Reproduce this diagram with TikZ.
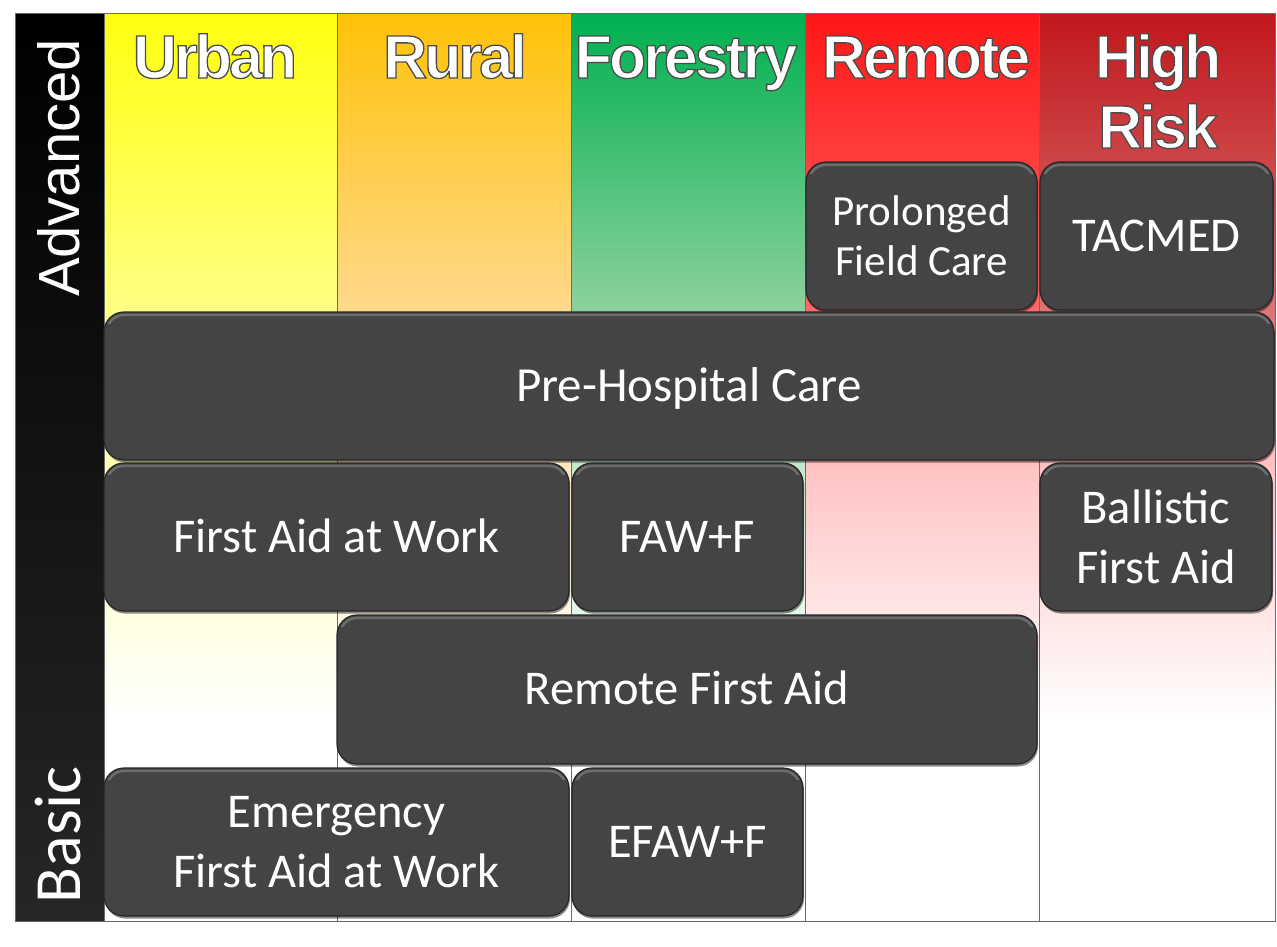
\documentclass[tikz,border=0pt]{standalone}
\usepackage{fontspec}
\usepackage{graphicx}
\setmainfont{Carlito}
\newfontfamily\hdrfont[LetterSpace=-5]{Liberation Sans}
\newfontfamily\arialfont{Liberation Sans}
\newfontfamily\calfont{Carlito}
\usetikzlibrary{shadows}

\definecolor{boxgray}{HTML}{444444}
\definecolor{bevelgray}{HTML}{6C6C6C}
\definecolor{edgegray}{HTML}{6A6A6A}
\definecolor{u1}{HTML}{FFFF10}\definecolor{u2}{HTML}{FFFF80}\definecolor{u3}{HTML}{FFFFB8}
\definecolor{r1}{HTML}{FFC208}\definecolor{r2}{HTML}{FFD888}\definecolor{r3}{HTML}{FFE8C0}
\definecolor{f1}{HTML}{00B050}\definecolor{f2}{HTML}{88D09C}\definecolor{f3}{HTML}{C6E9D0}
\definecolor{m1}{HTML}{FF1616}\definecolor{m2}{HTML}{FF6464}\definecolor{m3}{HTML}{FFC4C4}
\definecolor{h1}{HTML}{C0171B}\definecolor{h2}{HTML}{DA7070}\definecolor{h3}{HTML}{FFC4C4}

\newcommand\colfill[5]{%
  \shade[top color=#3,bottom color=#4] (#1,14) rectangle (#2,300.6);
  \shade[top color=#4,bottom color=#5] (#1,300) rectangle (#2,470.6);
  \shade[top color=#5,bottom color=white] (#1,470) rectangle (#2,720.6);
  \fill[white] (#1,720) rectangle (#2,921);
  \draw[coledge] (#1,14) rectangle (#2,921);}

\newcommand\bev[1]{%
  \begin{scope}
    \clip ([xshift=-2pt,yshift=2pt]#1.north west) rectangle ([xshift=2pt,yshift=-12pt]#1.north east);
    \draw[line width=2.5pt, draw=bevelgray, rounded corners=17pt]
      ([shift={(3.5pt,-3.5pt)}]#1.north west) rectangle ([shift={(-3.5pt,3.5pt)}]#1.south east);
  \end{scope}}

% outlined white header text (fill + stroke render mode)
\newcommand\outl[1]{\special{pdf:literal direct 2 Tr 1.3 w 0.30 0.30 0.30 RG}#1\special{pdf:literal direct 0 Tr}}

\tikzset{
  coledge/.style={draw=edgegray, line width=1pt},
  hdr/.style={font=\hdrfont\bfseries\fontsize{61}{70}\selectfont, inner sep=0pt, anchor=base, text=white},
  cbox/.style={draw=black!85, line width=1.2pt, fill=boxgray, rounded corners=20pt,
    text=white, inner sep=0pt, align=center, font=\fontsize{48.5}{60}\selectfont,
    drop shadow={shadow xshift=1pt, shadow yshift=-2.5pt, opacity=.45, fill=black}},
  single/.style={text height=30pt, text depth=0pt},
}

\begin{document}
\begin{tikzpicture}[x=1pt,y=-1pt]
\useasboundingbox[fill=white] (0,0) rectangle (1277,947);

% left level bar
\shade[top color=black, bottom color=black!85] (15,14) rectangle (104,921);
\draw[black!60, line width=1pt] (15,14) rectangle (104,921);
\node[rotate=90, text=white, inner sep=0pt, font=\arialfont\fontsize{58}{58}\selectfont] (adv) at (59,168) {Advanced};
\node[rotate=90, text=white, inner sep=0pt, font=\calfont\fontsize{66}{66}\selectfont] (bas) at (58,835) {Basic};

% columns
\colfill{104}{337}{u1}{u2}{u3}
\colfill{337}{571}{r1}{r2}{r3}
\colfill{571}{805}{f1}{f2}{f3}
\colfill{805}{1039}{m1}{m2}{m3}
\colfill{1039}{1275}{h1}{h2}{h3}

% headers
\node[hdr] (hu) at (215,78) {\outl{Urban}};
\node[hdr] (hr) at (455,78) {\outl{Rural}};
\node[hdr] (hf) at (686,78) {\outl{Forestry}};
\node[hdr] (hm) at (926,78) {\outl{Remote}};
\node[hdr] (hh1) at (1158,78) {\outl{High}};
\node[hdr] (hh2) at (1158,148) {\outl{Risk}};

% course boxes
\node[cbox, minimum width=231pt, minimum height=148pt, font=\fontsize{43}{50}\selectfont] (pfc) at (921.5,236) {Prolonged\\Field Care};
\node[cbox, single, minimum width=233pt, minimum height=148pt] (tac) at (1156.5,236) {TACMED};
\node[cbox, single, minimum width=1170pt, minimum height=148pt, font=\fontsize{49}{60}\selectfont] (phc) at (689,386) {Pre-Hospital Care};
\node[cbox, single, minimum width=465pt, minimum height=148pt] (faw) at (336.5,537) {First Aid at Work};
\node[cbox, single, minimum width=231pt, minimum height=148pt] (fawf) at (687.5,537) {FAW+F};
\node[cbox, minimum width=232pt, minimum height=148pt] (bfa) at (1156,537) {Ballistic\\First Aid};
\node[cbox, single, minimum width=700pt, minimum height=149pt] (rfa) at (687,689.5) {Remote First Aid};
\node[cbox, minimum width=465pt, minimum height=148pt] (efaw) at (336.5,842) {Emergency\\First Aid at Work};
\node[cbox, single, minimum width=231pt, minimum height=148pt] (efawf) at (687.5,842) {EFAW+F};

\foreach \n in {pfc,tac,phc,faw,fawf,bfa,rfa,efaw,efawf}{\bev{\n}}
\end{tikzpicture}
\end{document}
